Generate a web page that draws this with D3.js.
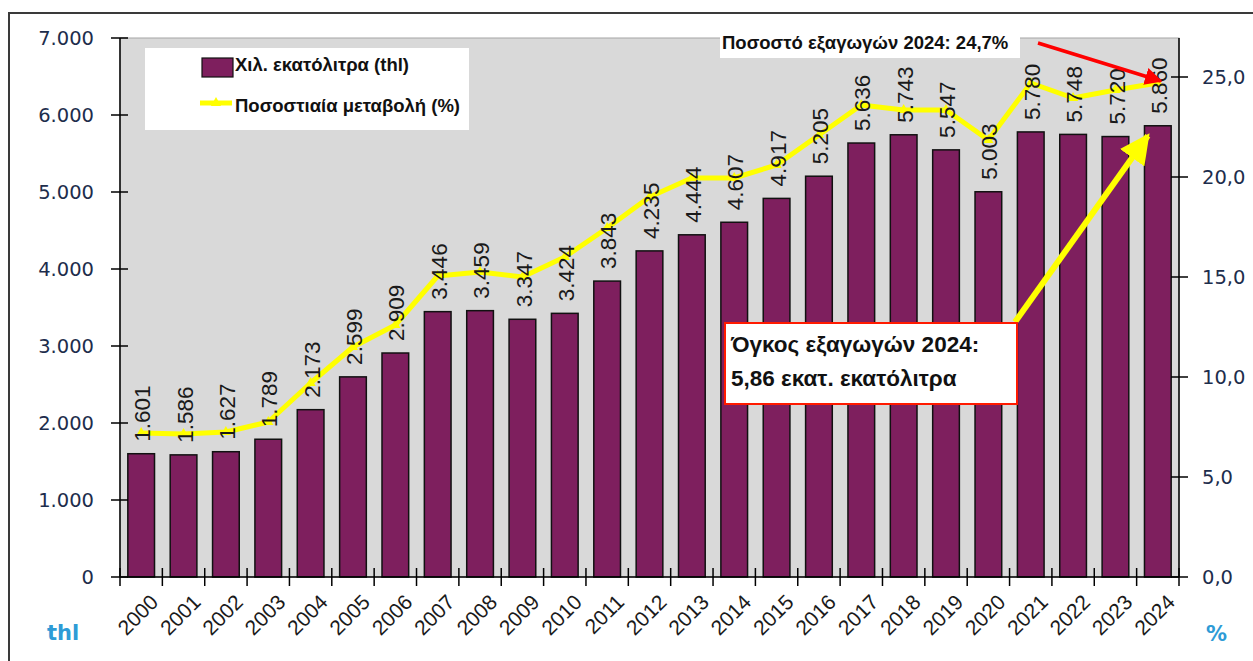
<!DOCTYPE html>
<html lang="el">
<head>
    <meta charset="UTF-8">
    <title>Εξαγωγές κρασιού 2000 - 2024</title>
    <script src="https://d3js.org/d3.v7.min.js"></script>
    <style>
        body {
            margin: 0;
            background: #fff;
            font-family: 'Liberation Sans', Arial, sans-serif;
        }

        .tick-lbl {
            font-family: 'DejaVu Sans', Verdana, sans-serif;
            font-size: 19.5px;
            fill: #1d2d4c;
        }

        .year-lbl {
            font-size: 21px;
            fill: #1a1a1a;
        }

        .bar-lbl {
            font-size: 22.5px;
            fill: #1a1a1a;
        }

        .unit {
            font-family: 'DejaVu Sans', Verdana, sans-serif;
            font-weight: bold;
            font-size: 21px;
            fill: #2e9bd6;
        }

        .legend-txt {
            font-weight: bold;
            font-size: 18.5px;
            fill: #111;
        }

        .note {
            font-weight: bold;
            fill: #111;
        }
    </style>
</head>
<body>
    <svg width="1253" height="661"></svg>

    <script>
        // data
        const years = ['2000', '2001', '2002', '2003', '2004', '2005', '2006', '2007', '2008', '2009',
            '2010', '2011', '2012', '2013', '2014', '2015', '2016', '2017', '2018', '2019',
            '2020', '2021', '2022', '2023', '2024'];
        const volume = [1601, 1586, 1627, 1789, 2173, 2599, 2909, 3446, 3459, 3347,
            3424, 3843, 4235, 4444, 4607, 4917, 5205, 5636, 5743, 5547,
            5003, 5780, 5748, 5720, 5860];
        const share = [7.2, 7.15, 7.25, 7.75, 9.7, 11.5, 12.6, 15.05, 15.25, 15.0,
            16.0, 17.45, 19.0, 19.95, 19.95, 20.6, 22.1, 23.6, 23.35, 23.35,
            21.85, 24.7, 23.95, 24.35, 24.7];
        const leftTicks = [0, 1000, 2000, 3000, 4000, 5000, 6000, 7000];
        const rightTicks = [0, 5, 10, 15, 20, 25];

        const svg = d3.select('svg');
        const plot = { left: 120, right: 1179, top: 38, bottom: 577 };

        const gr = d3.formatLocale({ decimal: ',', thousands: '.', grouping: [3], currency: ['', '€'] });
        const fmtThou = gr.format(',d');
        const fmtPct = gr.format('.1f');

        const x = d3.scaleBand()
            .domain(years)
            .range([plot.left, plot.right])
            .paddingInner(0.37)
            .paddingOuter(0.185);

        const yL = d3.scaleLinear().domain([0, 7000]).range([plot.bottom, plot.top]);
        const yR = d3.scaleLinear().domain([0, 26.95]).range([plot.bottom, plot.top]);

        // outer frame
        svg.append('path')
            .attr('d', 'M9,661 V13 H1253')
            .attr('fill', 'none')
            .attr('stroke', '#3a3a3a')
            .attr('stroke-width', 2);

        // plot background
        svg.append('rect')
            .attr('x', plot.left)
            .attr('y', plot.top)
            .attr('width', plot.right - plot.left)
            .attr('height', plot.bottom - plot.top)
            .attr('fill', '#d9d9d9')
            .attr('stroke', '#a6a6a6')
            .attr('stroke-width', 1);

        // bars
        svg.append('g')
            .selectAll('rect')
            .data(years)
            .join('rect')
            .attr('x', d => x(d))
            .attr('y', (d, i) => yL(volume[i]))
            .attr('width', x.bandwidth())
            .attr('height', (d, i) => plot.bottom - yL(volume[i]))
            .attr('fill', '#7e1f5e')
            .attr('stroke', '#111')
            .attr('stroke-width', 1.5);

        // percentage line
        const line = d3.line()
            .x((d, i) => x(years[i]) + x.bandwidth() / 2)
            .y(d => yR(d));

        svg.append('path')
            .datum(share)
            .attr('d', line)
            .attr('fill', 'none')
            .attr('stroke', '#ffff00')
            .attr('stroke-width', 5)
            .attr('stroke-linejoin', 'round');

        svg.append('g')
            .selectAll('path')
            .data(share)
            .join('path')
            .attr('transform', (d, i) => `translate(${x(years[i]) + x.bandwidth() / 2},${yR(d)})`)
            .attr('d', d3.symbol(d3.symbolTriangle, 45))
            .attr('fill', '#ffff00');

        // value labels above bars
        svg.append('g')
            .selectAll('text')
            .data(years)
            .join('text')
            .attr('class', 'bar-lbl')
            .attr('transform', (d, i) => `translate(${x(d) + x.bandwidth() / 2 + 1},${yL(volume[i]) - 12}) rotate(-90)`)
            .attr('dy', '0.36em')
            .text((d, i) => fmtThou(volume[i]));

        // left axis
        const gL = svg.append('g');
        gL.append('line')
            .attr('x1', plot.left).attr('x2', plot.left)
            .attr('y1', plot.top).attr('y2', plot.bottom)
            .attr('stroke', '#000').attr('stroke-width', 1.5);
        gL.selectAll('.tk')
            .data(leftTicks)
            .join('line')
            .attr('x1', plot.left - 9).attr('x2', plot.left + 8)
            .attr('y1', d => yL(d)).attr('y2', d => yL(d))
            .attr('stroke', '#000').attr('stroke-width', 1.5);
        gL.selectAll('text')
            .data(leftTicks)
            .join('text')
            .attr('class', 'tick-lbl')
            .attr('x', 94)
            .attr('y', d => yL(d))
            .attr('dy', '0.36em')
            .attr('text-anchor', 'end')
            .text(d => fmtThou(d));

        // right axis
        const gR = svg.append('g');
        gR.append('line')
            .attr('x1', plot.right).attr('x2', plot.right)
            .attr('y1', plot.top).attr('y2', plot.bottom)
            .attr('stroke', '#000').attr('stroke-width', 1.5);
        gR.selectAll('.tk')
            .data(rightTicks)
            .join('line')
            .attr('x1', plot.right - 8).attr('x2', plot.right + 9)
            .attr('y1', d => yR(d)).attr('y2', d => yR(d))
            .attr('stroke', '#000').attr('stroke-width', 1.5);
        gR.selectAll('text')
            .data(rightTicks)
            .join('text')
            .attr('class', 'tick-lbl')
            .attr('x', 1202)
            .attr('y', d => yR(d))
            .attr('dy', '0.36em')
            .text(d => fmtPct(d));

        // x axis
        const gX = svg.append('g');
        gX.append('line')
            .attr('x1', plot.left).attr('x2', plot.right)
            .attr('y1', plot.bottom).attr('y2', plot.bottom)
            .attr('stroke', '#000').attr('stroke-width', 1.5);
        const gap = (x.step() - x.bandwidth()) / 2;
        const bounds = years.map(d => x(d) - gap).concat([plot.right]);
        gX.selectAll('.tk')
            .data(bounds)
            .join('line')
            .attr('x1', d => d).attr('x2', d => d)
            .attr('y1', plot.bottom - 9).attr('y2', plot.bottom + 9)
            .attr('stroke', '#000').attr('stroke-width', 1.5);
        gX.selectAll('text')
            .data(years)
            .join('text')
            .attr('class', 'year-lbl')
            .attr('text-anchor', 'end')
            .attr('transform', d => `translate(${x(d) + x.bandwidth() / 2 + 8},${plot.bottom + 16}) rotate(-45)`)
            .attr('dy', '0.7em')
            .text(d => d);

        // unit labels
        svg.append('text').attr('class', 'unit').attr('x', 47).attr('y', 640).text('thl');
        svg.append('text').attr('class', 'unit').attr('x', 1206).attr('y', 641).text('%');

        // legend
        const lg = svg.append('g');
        lg.append('rect')
            .attr('x', 145).attr('y', 48).attr('width', 324).attr('height', 82)
            .attr('fill', '#fff');
        lg.append('rect')
            .attr('x', 202).attr('y', 58).attr('width', 31).attr('height', 19)
            .attr('fill', '#7e1f5e').attr('stroke', '#111').attr('stroke-width', 1.2);
        lg.append('text').attr('class', 'legend-txt').attr('x', 235).attr('y', 71)
            .text('Χιλ. εκατόλιτρα (thl)');
        lg.append('line')
            .attr('x1', 200).attr('x2', 232).attr('y1', 103).attr('y2', 103)
            .attr('stroke', '#ffff00').attr('stroke-width', 5);
        lg.append('path')
            .attr('transform', 'translate(216,103)')
            .attr('d', d3.symbol(d3.symbolTriangle, 45))
            .attr('fill', '#ffff00');
        lg.append('text').attr('class', 'legend-txt').attr('x', 235).attr('y', 112)
            .text('Ποσοστιαία μεταβολή (%)');

        // annotations
        const defs = svg.append('defs');
        defs.append('marker')
            .attr('id', 'red-head')
            .attr('viewBox', '0 0 10 10').attr('refX', 9).attr('refY', 5)
            .attr('markerWidth', 5).attr('markerHeight', 5)
            .attr('orient', 'auto')
            .append('path').attr('d', 'M0,0 L10,5 L0,10 Z').attr('fill', '#ff0000');
        defs.append('marker')
            .attr('id', 'yel-head')
            .attr('viewBox', '0 0 10 10').attr('refX', 9).attr('refY', 5)
            .attr('markerWidth', 5).attr('markerHeight', 5)
            .attr('orient', 'auto')
            .append('path').attr('d', 'M0,0 L10,5 L0,10 Z').attr('fill', '#ffff00');

        const last = years.length - 1;
        const lastX = x(years[last]) + x.bandwidth() / 2;

        svg.append('rect')
            .attr('x', 720).attr('y', 29).attr('width', 300).attr('height', 29)
            .attr('fill', '#fff');
        svg.append('text').attr('class', 'note').attr('x', 722).attr('y', 49)
            .style('font-size', '18.5px')
            .text('Ποσοστό εξαγωγών 2024: 24,7%');
        svg.append('line')
            .attr('x1', 1038).attr('y1', 43)
            .attr('x2', lastX + 3).attr('y2', yR(share[last]) - 2)
            .attr('stroke', '#ff0000').attr('stroke-width', 3.5)
            .attr('marker-end', 'url(#red-head)');

        svg.append('line')
            .attr('x1', 1015).attr('y1', 322)
            .attr('x2', lastX - 10).attr('y2', yL(volume[last]) + 10)
            .attr('stroke', '#ffff00').attr('stroke-width', 6)
            .attr('marker-end', 'url(#yel-head)');
        svg.append('rect')
            .attr('x', 725).attr('y', 323).attr('width', 292).attr('height', 81)
            .attr('fill', '#fff')
            .attr('stroke', '#ff1a00').attr('stroke-width', 2);
        svg.append('text').attr('class', 'note').attr('x', 731).attr('y', 352)
            .style('font-size', '22.5px')
            .text('Όγκος εξαγωγών 2024:');
        svg.append('text').attr('class', 'note').attr('x', 731).attr('y', 386)
            .style('font-size', '22.5px')
            .text('5,86 εκατ. εκατόλιτρα');
    </script>
</body>
</html>
